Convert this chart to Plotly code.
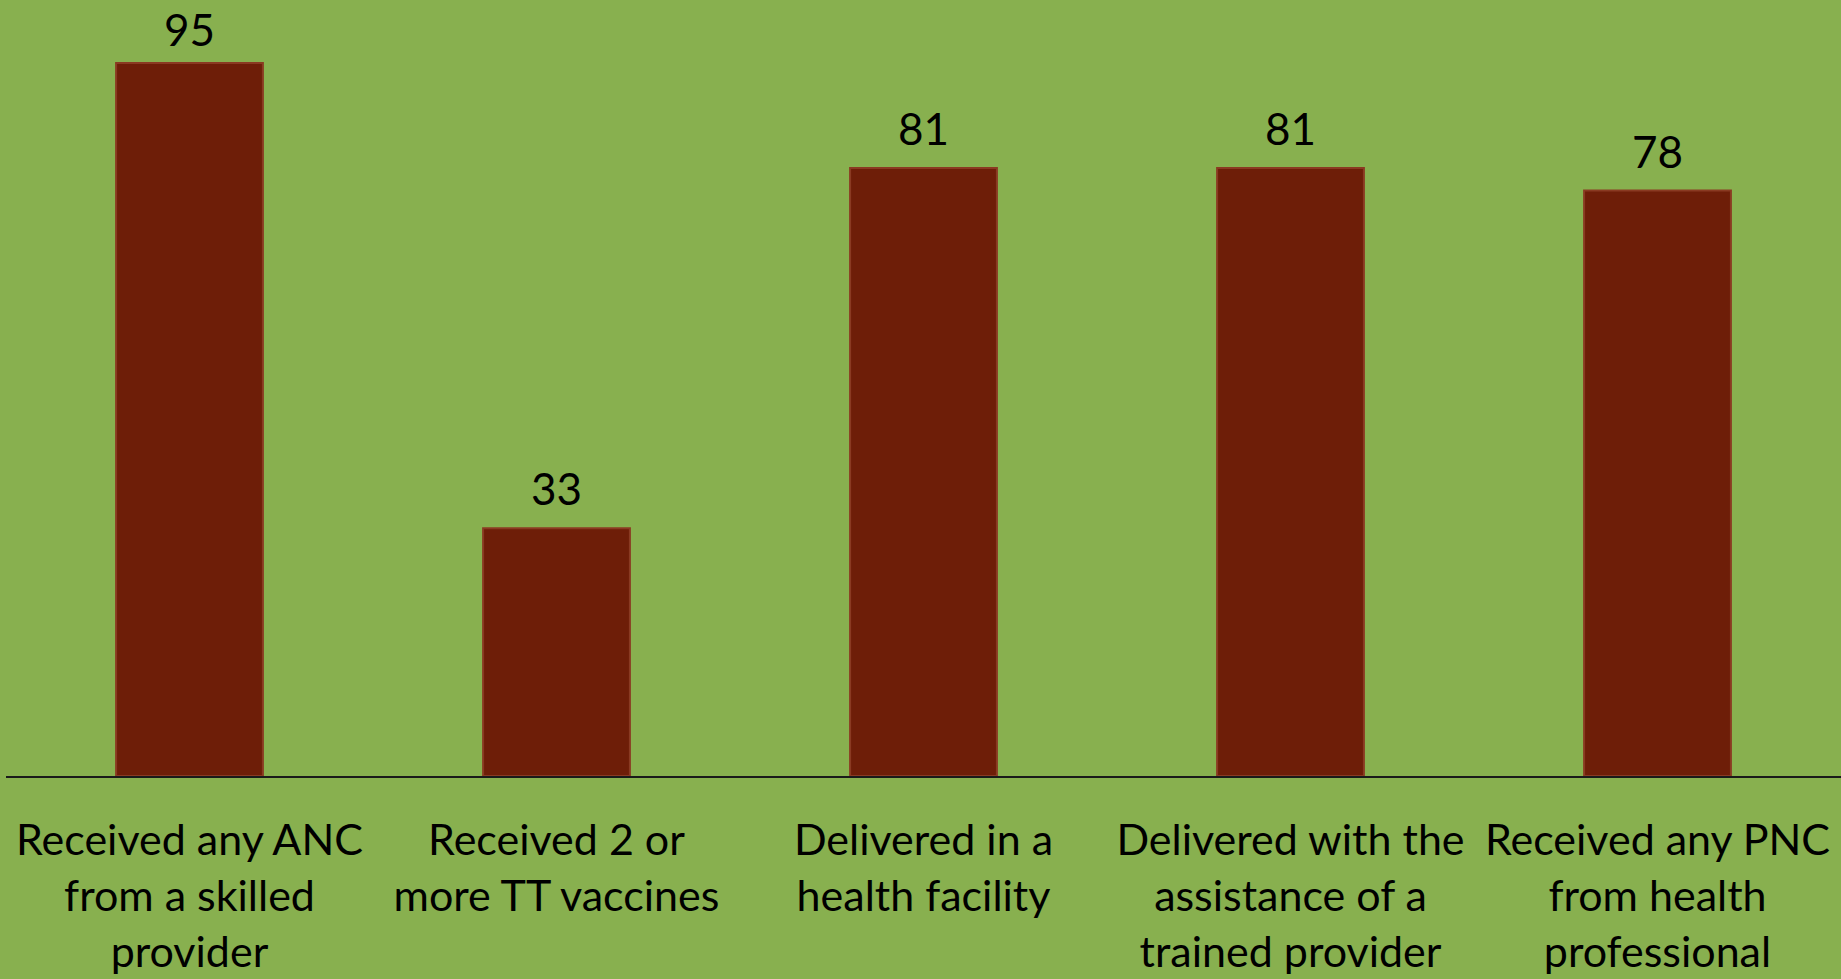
import plotly.graph_objects as go

categories = [
    "Received any ANC<br>from a skilled<br>provider",
    "Received 2 or<br>more TT vaccines",
    "Delivered in a<br>health facility",
    "Delivered with the<br>assistance of a<br>trained provider",
    "Received any PNC<br>from health<br>professional",
]
values = [95, 33, 81, 81, 78]
value_labels = ["95", "33", "81", "81", "78"]

BG = "#88B04F"
BAR = "#6E1E08"
FONT = "Lato, Liberation Sans, sans-serif"
Y_MAX = 103.4
FIG_H = 979
MARGIN_B = 203
PLOT_H = FIG_H - MARGIN_B
LABEL_SIZE = 44

fig = go.Figure()
fig.add_trace(go.Bar(
    x=categories,
    y=values,
    marker=dict(color=BAR, line=dict(color="#8A3A22", width=2)),
    hoverinfo="skip",
))

for cat, val, lab in zip(categories, values, value_labels):
    # keep the label inside the page: free space above the bar minus label height
    top_px = PLOT_H * (1 - val / Y_MAX)
    shift = max(0, min(12, top_px - LABEL_SIZE * 1.25 - 2))
    fig.add_annotation(
        x=cat, y=val, text=lab, showarrow=False,
        yanchor="bottom", yshift=shift,
        font=dict(family=FONT, size=LABEL_SIZE, color="#000000"),
    )

fig.update_layout(
    width=1841, height=FIG_H,
    paper_bgcolor=BG, plot_bgcolor=BG,
    margin=dict(l=6, r=0, t=0, b=MARGIN_B),
    bargap=0.6,
    showlegend=False,
    font=dict(family=FONT, color="#000000"),
)
fig.update_xaxes(
    showline=True, linecolor="#1a1a1a", linewidth=1.5,
    ticks="outside", ticklen=26, tickcolor="rgba(0,0,0,0)",
    tickfont=dict(size=43), showgrid=False, tickangle=0,
)
fig.update_yaxes(
    range=[0, Y_MAX], visible=False, showgrid=False, zeroline=False,
)

fig.write_html(
    "out.html",
    config={"displayModeBar": False},
    post_script="document.body.style.margin='0';document.body.style.background='" + BG + "';",
)
